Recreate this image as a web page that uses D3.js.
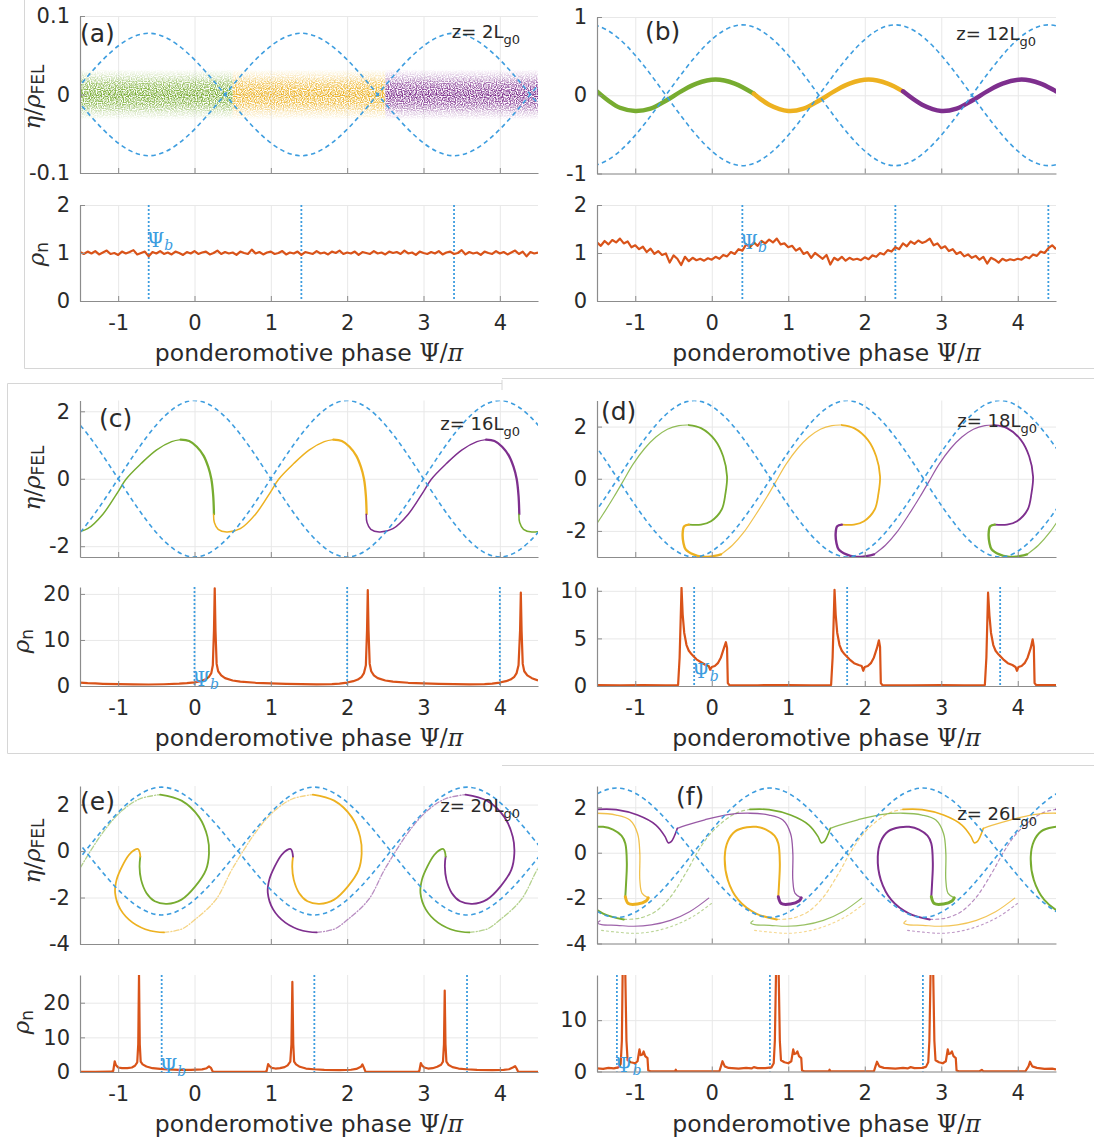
<!DOCTYPE html>
<html><head><meta charset="utf-8">
<script src="https://cdn.jsdelivr.net/npm/d3@7"></script>
<style>body{margin:0;background:#fff}svg{display:block}</style>
</head><body>
<svg id="fig" width="1094" height="1142"></svg>
<script>
// ---------------- shared axis values ----------------
const psiTicks = [-1, 0, 1, 2, 3, 4];
const psiRange = [-1.5, 4.5];

// ---------------- (a) z = 2 Lg0 ----------------
const aBucketPhase = [-0.6, 1.4, 3.4];
const aSeparatrix = [[-3.6,0],[-2.6,-0.078],[-1.6,0],[-0.6,0.078],[0.4,0],[1.4,-0.078],[2.4,0],[3.4,0.078],[4.4,0],[5.4,-0.078],[6.4,0]];
const aBands = [[-1.5, 0.5, 'green'], [0.5, 2.5, 'yellow'], [2.5, 4.5, 'purple']];
const aBandSpread = 0.032;
const densityStart = -1.5, densityStep = 0.05;
const aDensity = [
 1.02,0.98,1.03,0.99,1.04,0.97,1.01,1.05,0.98,1.00,
 0.96,1.03,0.99,1.02,1.06,0.97,1.00,1.03,0.93,1.02,
 0.99,1.04,0.98,1.01,0.97,1.03,1.00,0.96,1.02,0.99,
 1.04,0.98,1.01,1.03,0.97,1.00,1.05,0.98,1.02,0.99,
 1.01,0.96,1.03,1.00,0.98,1.07,0.99,1.02,0.97,1.01,
 1.03,0.98,1.00,1.04,0.97,1.01,0.99,1.03,0.96,1.02,
 1.00,0.98,1.04,0.99,1.01,0.97,1.03,1.00,1.05,0.98,
 1.01,0.99,1.03,0.96,1.02,1.00,0.98,1.04,0.99,1.01,
 0.97,1.03,1.00,1.02,0.98,1.05,0.99,1.01,0.96,1.03,
 1.00,0.98,1.02,0.99,1.04,0.97,1.01,1.03,0.98,1.00,
 1.06,0.97,1.02,0.99,1.01,0.96,1.03,1.00,0.98,1.04,
 0.99,1.02,0.97,1.01,1.05,0.98,1.03,0.93,1.02,0.99,
 1.01];

// ---------------- (b) z = 12 Lg0 ----------------
const bBucketPhase = [0.4, 2.4, 4.4];
const bSeparatrix = [[-2.6,0],[-1.6,-0.9],[-0.6,0],[0.4,0.9],[1.4,0],[2.4,-0.9],[3.4,0],[4.4,0.9],[5.4,0]];
const bGreen  = [[-1.5,0.05],[-1.35,-0.07],[-1.2,-0.16],[-1.0,-0.20],[-0.8,-0.17],[-0.6,-0.07],[-0.4,0.05],[-0.2,0.15],[0.05,0.20],[0.3,0.15],[0.55,0.02]];
const bYellow = [[0.55,0.02],[0.75,-0.12],[1.0,-0.20],[1.2,-0.17],[1.4,-0.07],[1.6,0.05],[1.8,0.15],[2.05,0.20],[2.3,0.15],[2.5,0.05]];
const bPurple = [[2.5,0.05],[2.75,-0.12],[3.0,-0.20],[3.2,-0.17],[3.4,-0.07],[3.6,0.05],[3.8,0.15],[4.05,0.20],[4.3,0.15],[4.5,0.05]];
const bDensity = [
 1.22,1.15,1.25,1.18,1.27,1.22,1.30,1.20,1.24,1.12,
 1.16,1.08,1.13,1.02,1.09,0.98,1.04,0.96,0.99,0.80,
 0.95,0.88,0.75,0.92,0.83,0.90,0.85,0.88,0.84,0.89,
 0.86,0.92,0.88,0.96,0.93,1.02,0.98,1.08,1.05,1.18,
 1.12,1.22,1.15,1.25,1.20,1.28,1.22,1.30,1.18,1.20,
 1.12,1.15,1.05,1.10,0.98,1.02,0.90,1.00,0.94,0.88,
 0.96,0.76,0.90,0.85,0.92,0.84,0.90,0.86,0.88,0.85,
 0.91,0.87,0.95,0.92,1.00,0.97,1.06,1.03,1.12,1.08,
 1.20,1.14,1.24,1.19,1.26,1.21,1.24,1.30,1.16,1.20,
 1.10,1.14,1.04,1.08,0.98,1.02,0.93,0.97,0.90,0.94,
 0.86,0.92,0.78,0.90,0.86,0.80,0.88,0.84,0.87,0.85,
 0.88,0.86,0.92,0.89,0.97,0.94,1.03,1.00,1.10,1.16,
 1.08];

// ---------------- (c) z = 16 Lg0 ----------------
const cBucketPhase = [0, 2, 4];
const cSeparatrix = [[-3,0],[-2,-2.32],[-1,0],[0,2.32],[1,0],[2,-2.32],[3,0],[4,2.32],[5,0],[6,-2.32],[7,0]];
// one colour stretch, phase measured from the bucket where it starts
const cRise = [[0.25,-1.05],[0.26,-1.30],[0.31,-1.50],[0.42,-1.58],[0.6,-1.48],[0.8,-1.05],[1.0,-0.38],[1.1,-0.02],[1.3,0.45],[1.5,0.85],[1.7,1.1],[1.82,1.16]];
const cFall = [[1.82,1.16],[1.93,1.12],[2.03,0.95],[2.12,0.68],[2.18,0.35],[2.22,0.0],[2.245,-0.5],[2.255,-1.05]];
const cStarts = [-2, 0, 2, 4];
const cColours = ['green', 'yellow', 'purple', 'green'];
const cDensity = [[-1.5,0.75],[-1.4,0.62],[-1.3,0.55],[-1.2,0.48],[-1.0,0.4],[-0.8,0.35],[-0.6,0.33],[-0.4,0.38],[-0.2,0.5],[-0.1,0.62],[0.0,0.8],[0.08,1.05],[0.14,1.4],[0.19,2.0],[0.22,2.8],[0.24,4.5],[0.255,12],[0.265,21.2],[0.275,12],[0.29,4.8],[0.31,3.2],[0.35,2.3],[0.4,1.7],[0.5,1.2],[0.6,0.95],[0.8,0.7],[1.0,0.55],[1.2,0.45],[1.4,0.4],[1.6,0.35],[1.8,0.4],[1.9,0.5],[2.0,0.75],[2.08,1.05],[2.14,1.4],[2.19,2.0],[2.22,2.8],[2.245,4.5],[2.26,12],[2.27,20.8],[2.28,12],[2.295,4.8],[2.315,3.2],[2.35,2.3],[2.4,1.7],[2.5,1.2],[2.6,0.95],[2.8,0.7],[3.0,0.55],[3.2,0.45],[3.4,0.4],[3.6,0.35],[3.8,0.4],[3.9,0.5],[4.0,0.75],[4.08,1.05],[4.14,1.4],[4.19,2.0],[4.22,2.8],[4.245,4.5],[4.265,12],[4.275,20.3],[4.285,12],[4.3,4.8],[4.32,3.2],[4.36,2.3],[4.42,1.7],[4.5,1.2]];

// ---------------- (d) z = 18 Lg0 ----------------
const dBucketPhase = [-0.23, 1.77, 3.77];
const dSeparatrix = [[-3.23,0],[-2.23,-3],[-1.23,0],[-0.23,3],[0.77,0],[1.77,-3],[2.77,0],[3.77,3],[4.77,0],[5.77,-3],[6.77,0]];
const dCurl = [[-0.07,-1.76],[-0.13,-1.82],[-0.15,-2.08],[-0.14,-2.46],[-0.11,-2.71],[-0.01,-2.90],[0.10,-2.99],[0.21,-2.99],[0.35,-2.9]];
const dRise = [[0.35,-2.9],[0.5,-2.55],[0.65,-2.05],[0.8,-1.4],[0.95,-0.7],[1.07,-0.1],[1.2,0.55],[1.35,1.15],[1.5,1.6],[1.65,1.9],[1.8,2.04],[1.93,2.06]];
const dLoop = [[1.93,2.06],[2.09,1.94],[2.27,1.49],[2.38,0.85],[2.43,0.09],[2.41,-0.55],[2.36,-1.18],[2.22,-1.63],[2.09,-1.76],[1.93,-1.76]];
const dStarts = [-2.23, -0.23, 1.77, 3.77];
const dColours = ['green', 'yellow', 'purple', 'green'];
const dDensity = [[-1.5,0.1],[-1.2,0.08],[-0.9,0.1],[-0.6,0.08],[-0.44,0.1],[-0.42,3],[-0.395,10.3],[-0.38,7.5],[-0.36,5.6],[-0.33,4.3],[-0.3,3.7],[-0.26,3.3],[-0.2,2.8],[-0.14,2.5],[-0.08,2.2],[-0.04,2.1],[-0.02,1.7],[0.0,2.0],[0.04,2.1],[0.08,2.4],[0.12,3.0],[0.16,4.0],[0.185,4.6],[0.2,4.0],[0.21,0.3],[0.23,0.1],[0.6,0.08],[1.0,0.1],[1.3,0.08],[1.56,0.1],[1.58,3],[1.605,10.1],[1.62,7.5],[1.64,5.6],[1.67,4.3],[1.7,3.7],[1.74,3.3],[1.8,2.8],[1.86,2.4],[1.92,2.2],[1.96,2.1],[1.98,1.6],[2.0,2.0],[2.04,2.1],[2.08,2.4],[2.12,3.0],[2.16,4.0],[2.185,4.8],[2.2,4.1],[2.21,0.3],[2.23,0.1],[2.6,0.08],[3.0,0.1],[3.3,0.08],[3.57,0.1],[3.59,3],[3.612,9.8],[3.63,7.4],[3.65,5.6],[3.68,4.3],[3.71,3.7],[3.75,3.3],[3.81,2.8],[3.87,2.4],[3.93,2.2],[3.97,2.0],[3.99,1.6],[4.01,2.0],[4.05,2.1],[4.09,2.4],[4.13,3.0],[4.17,4.0],[4.195,4.9],[4.21,4.1],[4.22,0.3],[4.24,0.1],[4.5,0.1]];

// ---------------- (e) z = 20 Lg0 ----------------
const eBucketPhase = [-0.43, 1.57, 3.57];
const eSeparatrix = [[-3.43,0],[-2.43,-2.75],[-1.43,0],[-0.43,2.75],[0.57,0],[1.57,-2.75],[2.57,0],[3.57,2.75],[4.57,0],[5.57,-2.75],[6.57,0]];
const eHook  = [[-0.28,-0.24],[-0.29,-0.03],[-0.31,0.09],[-0.36,0.04],[-0.43,-0.17],[-0.52,-0.67],[-0.59,-1.23],[-0.61,-1.8],[-0.54,-2.51],[-0.38,-3.08],[-0.15,-3.43],[0.03,-3.5]];
const eOuter = [[0.03,-3.5],[0.26,-3.36],[0.44,-2.94],[0.71,-2.09],[0.93,-0.74],[1.25,0.89],[1.48,1.74],[1.71,2.24],[1.98,2.43]];
const eLoop  = [[1.98,2.43],[2.26,2.17],[2.49,1.46],[2.60,0.61],[2.62,-0.1],[2.58,-0.81],[2.44,-1.52],[2.26,-2.09],[2.07,-2.27],[1.91,-2.16],[1.80,-1.8],[1.73,-1.23],[1.71,-0.67],[1.72,-0.24]];
const eStarts = [-2.43, -0.43, 1.57, 3.57];
const eColours = ['green', 'yellow', 'purple', 'green'];
const eDensity = [[-1.5,0.05],[-1.3,0.05],[-1.1,0.08],[-1.065,0.3],[-1.045,3.1],[-1.03,2.0],[-1.0,1.3],[-0.95,1.1],[-0.88,1.1],[-0.82,1.3],[-0.78,1.8],[-0.75,2.8],[-0.737,8],[-0.727,28],[-0.717,8],[-0.705,3],[-0.68,2.2],[-0.63,1.6],[-0.55,1.1],[-0.45,0.9],[-0.35,0.75],[-0.2,0.6],[-0.05,0.6],[0.1,0.75],[0.16,1.1],[0.19,1.6],[0.215,1.2],[0.24,0.1],[0.4,0.05],[0.7,0.05],[0.93,0.08],[0.945,0.3],[0.965,2.3],[0.98,1.8],[1.01,1.2],[1.06,1.0],[1.12,1.1],[1.18,1.4],[1.22,1.9],[1.255,3],[1.27,8],[1.282,26],[1.294,8],[1.305,3],[1.33,2.2],[1.38,1.5],[1.46,1.0],[1.56,0.8],[1.7,0.6],[1.9,0.55],[2.05,0.65],[2.12,0.9],[2.18,1.5],[2.2,2.2],[2.22,1.2],[2.24,0.1],[2.4,0.05],[2.7,0.05],[2.93,0.08],[2.945,0.3],[2.965,2.6],[2.98,1.9],[3.01,1.3],[3.06,1.0],[3.12,1.1],[3.18,1.5],[3.23,2.1],[3.255,3],[3.268,8],[3.278,23.5],[3.288,8],[3.3,3],[3.33,2.0],[3.38,1.4],[3.46,1.0],[3.56,0.8],[3.7,0.6],[3.9,0.55],[4.05,0.6],[4.12,0.8],[4.17,1.3],[4.2,1.7],[4.22,1.0],[4.24,0.1],[4.5,0.05]];

// ---------------- (f) z = 26 Lg0 ----------------
const fBucketPhase = [-1.24, 0.76, 2.76];
const fSeparatrix = [[-4.24,0],[-3.24,-2.85],[-2.24,0],[-1.24,2.85],[-0.24,0],[0.76,-2.85],[1.76,0],[2.76,2.85],[3.76,0],[4.76,-2.85],[5.76,0]];
const fBuckets     = [-3.24, -1.24, 0.76, 2.76, 4.76];
const fCoreColours = ['purple', 'green', 'yellow', 'purple', 'green'];
const fTipColours  = ['green', 'yellow', 'purple', 'green', 'yellow'];
const fHookColours = ['yellow', 'purple', 'green', 'yellow', 'purple'];
const fCore     = [[0.09,-2.94],[-0.18,-2.68],[-0.41,-2.09],[-0.55,-1.2],[-0.59,-0.18],[-0.55,0.5],[-0.45,0.95],[-0.3,1.12],[-0.18,1.14],[-0.05,1.02],[0.06,0.75],[0.11,0.41],[0.13,-0.47],[0.12,-1.35],[0.11,-1.94]];
const fCoreTail = [[0.09,-2.94],[0.3,-2.88],[0.5,-2.6],[0.7,-1.95],[0.9,-0.9],[1.05,0.0],[1.2,0.75],[1.4,1.4],[1.58,1.78],[1.74,1.91]];
const fTip      = [[0.11,-1.94],[0.15,-2.24],[0.27,-2.26],[0.38,-2.13],[0.41,-1.99]];
const fTipTail  = [[0.41,-1.99],[0.33,-1.79],[0.30,-1.21],[0.30,-0.03],[0.27,0.85],[0.17,1.44],[-0.01,1.66],[-0.26,1.74],[-0.55,1.68],[-0.85,1.45],[-1.1,1.2],[-1.21,1.07]];
const fHook     = [[-0.26,1.91],[-0.01,1.9],[0.27,1.66],[0.51,1.22],[0.63,0.71],[0.67,0.44],[0.71,0.49],[0.79,1.07]];
const fUnder    = [[-0.22,-3.0],[-0.25,-3.1],[-0.2,-3.17],[0.0,-3.2],[0.22,-3.24],[0.45,-3.18],[0.7,-2.98],[0.95,-2.6],[1.2,-2.0]];
const fUnderLow = [[-0.2,-3.42],[0.0,-3.5],[0.25,-3.55],[0.5,-3.45],[0.75,-3.2],[1.0,-2.8],[1.25,-2.2]];
const fDensity = [[-1.5,0.6],[-1.42,0.5],[-1.35,0.7],[-1.28,0.6],[-1.22,0.8],[-1.19,1.5],[-1.175,6],[-1.165,19],[-1.13,19],[-1.115,6],[-1.1,2.2],[-1.06,1.8],[-1.0,1.6],[-0.97,2.0],[-0.945,4.3],[-0.93,3.2],[-0.905,3.3],[-0.89,3.9],[-0.87,3.0],[-0.84,2.6],[-0.83,0.2],[-0.8,0.05],[-0.6,0.05],[-0.48,0.05],[-0.47,0.35],[-0.46,0.05],[-0.2,0.05],[0.1,0.05],[0.12,1.0],[0.14,2.0],[0.17,1.0],[0.22,0.7],[0.35,0.55],[0.45,0.7],[0.52,0.6],[0.55,0.85],[0.6,0.65],[0.7,0.65],[0.78,0.8],[0.81,1.6],[0.825,6],[0.84,19],[0.875,19],[0.89,6],[0.905,2.2],[0.95,1.8],[1.0,1.6],[1.04,2.0],[1.065,4.3],[1.08,3.4],[1.1,3.5],[1.12,3.9],[1.14,3.0],[1.17,2.6],[1.18,0.2],[1.21,0.05],[1.4,0.05],[1.53,0.05],[1.54,0.35],[1.55,0.05],[1.9,0.05],[2.12,0.05],[2.14,1.0],[2.16,1.9],[2.19,1.0],[2.25,0.7],[2.4,0.55],[2.5,0.7],[2.56,0.6],[2.6,0.85],[2.65,0.65],[2.75,0.7],[2.8,0.9],[2.83,1.8],[2.845,6],[2.86,19],[2.895,19],[2.91,6],[2.925,2.2],[2.97,1.8],[3.02,1.6],[3.06,2.0],[3.085,4.3],[3.1,3.4],[3.12,3.5],[3.14,3.9],[3.16,3.0],[3.19,2.6],[3.2,0.2],[3.23,0.05],[3.5,0.05],[3.53,0.3],[3.55,0.05],[4.1,0.05],[4.14,1.0],[4.16,1.9],[4.19,1.0],[4.25,0.7],[4.35,0.5],[4.45,0.55],[4.5,0.4]];

// ---------------- drawing ----------------
const COLOUR = {green: '#77AC30', yellow: '#EDB120', purple: '#7E2F8E'};
const SEP = '#3d9ddf', RHO = '#D95319', GRID = '#e8e8e8', AXIS = '#8c8c8c', INK = '#2a2a2a';
const SANS = "'DejaVu Sans', sans-serif";
const SERIF = "'DejaVu Serif', 'Liberation Serif', serif";

const svg = d3.select('#fig');
const defs = svg.append('defs');
let clipCount = 0;

// grainy look of the macro-particle cloud in (a)
const grain = defs.append('filter').attr('id', 'grain').attr('x', 0).attr('y', 0).attr('width', 1).attr('height', 1);
grain.append('feTurbulence').attr('type', 'fractalNoise').attr('baseFrequency', 0.85).attr('numOctaves', 1).attr('seed', 7).attr('result', 'noise');
grain.append('feColorMatrix').attr('in', 'noise').attr('type', 'matrix')
  .attr('values', '0 0 0 0 0  0 0 0 0 0  0 0 0 0 0  0 0 0 3.2 -1.1').attr('result', 'speck');
grain.append('feComposite').attr('in', 'SourceGraphic').attr('in2', 'speck').attr('operator', 'in');

// frame lines left around the sub-figures
const frameG = svg.append('g').attr('stroke', '#d6d6d6').attr('stroke-width', 1).attr('fill', 'none');
[[24.5,0,24.5,368.5],[24.5,368.5,1094,368.5],[502,378.5,1094,378.5],
 [7.5,383.5,502,383.5],[502,380,502,390],[7.5,383.5,7.5,753.5],[7.5,753.5,1094,753.5],[502,765.5,1094,765.5]]
  .forEach(([x1,y1,x2,y2]) => frameG.append('line').attr('x1',x1).attr('y1',y1).attr('x2',x2).attr('y2',y2));

function makeAxes(box) {
  const x = d3.scaleLinear().domain(psiRange).range([box.x0, box.x1]);
  const y = d3.scaleLinear().domain(box.dom).range([box.y1, box.y0]);
  const g = svg.append('g');
  g.append('g').attr('transform', `translate(0,${box.y1})`)
    .call(d3.axisBottom(x).tickValues(psiTicks).tickSize(-(box.y1 - box.y0)).tickFormat(''))
    .call(s => { s.select('.domain').remove(); s.selectAll('line').attr('stroke', GRID); });
  g.append('g').attr('transform', `translate(${box.x0},0)`)
    .call(d3.axisLeft(y).tickValues(box.ticks).tickSize(-(box.x1 - box.x0)).tickFormat(''))
    .call(s => { s.select('.domain').remove(); s.selectAll('line').attr('stroke', GRID); });
  const id = 'clip' + (clipCount++);
  defs.append('clipPath').attr('id', id).append('rect')
    .attr('x', box.x0).attr('y', box.y0).attr('width', box.x1 - box.x0).attr('height', box.y1 - box.y0 + 1);
  const plot = g.append('g').attr('clip-path', `url(#${id})`);
  return {x, y, g, plot, box};
}

function finishAxes(ax, xLabels) {
  const {box} = ax;
  const style = s => {
    s.select('.domain').attr('stroke', AXIS).attr('stroke-width', 1.2);
    s.selectAll('.tick line').attr('stroke', AXIS).attr('stroke-width', 1);
    s.selectAll('text').attr('fill', INK).attr('font-family', SANS).attr('font-size', 21);
  };
  ax.g.append('g').attr('transform', `translate(0,${box.y1})`)
    .call(d3.axisBottom(ax.x).tickValues(psiTicks).tickSizeInner(-5).tickSizeOuter(0).tickPadding(14)
      .tickFormat(xLabels ? d => String(d) : () => ''))
    .call(style);
  ax.g.append('g').attr('transform', `translate(${box.x0},0)`)
    .call(d3.axisLeft(ax.y).tickValues(box.ticks).tickSizeInner(-5).tickSizeOuter(0).tickPadding(10)
      .tickFormat(d => String(d)))
    .call(style);
}

function drawSeparatrix(ax, nodes) {
  const line = d3.line().x(d => ax.x(d[0])).y(d => ax.y(d[1])).curve(d3.curveNatural);
  [1, -1].forEach(sgn => {
    ax.plot.append('path').datum(nodes.map(([p, e]) => [p, sgn * e]))
      .attr('d', line).attr('fill', 'none').attr('stroke', SEP)
      .attr('stroke-width', 1.6).attr('stroke-dasharray', '4.5,3.5');
  });
}

function drawBucketLines(ax, phases) {
  ax.plot.selectAll(null).data(phases).join('line')
    .attr('x1', d => ax.x(d)).attr('x2', d => ax.x(d))
    .attr('y1', ax.box.y0).attr('y2', ax.box.y1)
    .attr('stroke', SEP).attr('stroke-width', 1.8).attr('stroke-dasharray', '2,2');
}

function drawDensity(ax, pts) {
  const line = d3.line().x(d => ax.x(d[0])).y(d => ax.y(d[1]));
  ax.plot.append('path').datum(pts).attr('d', line).attr('fill', 'none')
    .attr('stroke', RHO).attr('stroke-width', 2.2).attr('stroke-linejoin', 'round');
}

function drawCurve(ax, pts, colour, width, opts = {}) {
  const line = d3.line().x(d => ax.x(d[0])).y(d => ax.y(d[1])).curve(d3.curveCatmullRom.alpha(0.5));
  const p = ax.plot.append('path').datum(pts).attr('d', line).attr('fill', 'none')
    .attr('stroke', COLOUR[colour]).attr('stroke-width', width)
    .attr('stroke-linecap', 'round').attr('stroke-linejoin', 'round');
  if (opts.dash) p.attr('stroke-dasharray', opts.dash);
  if (opts.opacity) p.attr('stroke-opacity', opts.opacity);
}

// copies a stretch of phase space into the bucket that starts at `start`
function shifted(pts, start) { return pts.map(([p, e]) => [start + p, e]); }

function psiBLabel(ax, psi, rho) {
  const t = ax.g.append('text').attr('x', ax.x(psi) - 2).attr('y', ax.y(rho))
    .attr('dominant-baseline', 'middle').attr('fill', SEP).attr('font-family', SERIF).attr('font-size', 20);
  t.append('tspan').text('Ψ');
  t.append('tspan').attr('font-style', 'italic').attr('font-size', 14).attr('dy', 5).text('b');
}

function zLabel(ax, x, y, n) {
  const t = ax.g.append('text').attr('x', x).attr('y', y).attr('text-anchor', 'end')
    .attr('fill', INK).attr('font-family', SANS).attr('font-size', 18);
  t.append('tspan').text(`z= ${n}L`);
  t.append('tspan').attr('font-size', 13).attr('dy', 6).text('g0');
}

function panelLetter(x, y, s) {
  svg.append('text').attr('x', x).attr('y', y).attr('fill', INK)
    .attr('font-family', SANS).attr('font-size', 25).text(`(${s})`);
}

function xLabel(ax) {
  const t = ax.g.append('text').attr('x', (ax.box.x0 + ax.box.x1) / 2).attr('y', ax.box.y1 + 52)
    .attr('text-anchor', 'middle').attr('dominant-baseline', 'central')
    .attr('fill', INK).attr('font-family', SANS).attr('font-size', 23.5);
  t.append('tspan').text('ponderomotive phase ');
  t.append('tspan').attr('font-family', SERIF).text('Ψ/');
  t.append('tspan').attr('font-family', SERIF).attr('font-style', 'italic').text('π');
}

function yLabelEta(cx, cy) {
  const t = svg.append('text').attr('transform', `translate(${cx},${cy}) rotate(-90)`)
    .attr('text-anchor', 'middle').attr('dominant-baseline', 'central')
    .attr('fill', INK).attr('font-size', 23);
  t.append('tspan').attr('font-family', SERIF).attr('font-style', 'italic').text('η');
  t.append('tspan').attr('font-family', SERIF).text('/');
  t.append('tspan').attr('font-family', SERIF).attr('font-style', 'italic').text('ρ');
  t.append('tspan').attr('font-family', SANS).attr('font-size', 17).attr('dy', 6).text('FEL');
}

function yLabelRho(cx, cy) {
  const t = svg.append('text').attr('transform', `translate(${cx},${cy}) rotate(-90)`)
    .attr('text-anchor', 'middle').attr('dominant-baseline', 'central')
    .attr('fill', INK).attr('font-size', 23);
  t.append('tspan').attr('font-family', SERIF).attr('font-style', 'italic').text('ρ');
  t.append('tspan').attr('font-family', SANS).attr('font-size', 17).attr('dy', 6).text('n');
}

const densityPoints = vals => vals.map((v, i) => [densityStart + i * densityStep, v]);
const LEFT = {x0: 80, x1: 538}, RIGHT = {x0: 597, x1: 1056};

// ----- (a)
{
  const top = makeAxes({...LEFT, y0: 16, y1: 173, dom: [-0.1, 0.1], ticks: [-0.1, 0, 0.1]});
  const cloud = top.plot.append('g').attr('filter', 'url(#grain)');
  aBands.forEach(([p0, p1, c], i) => {
    const gid = 'band' + i;
    const grad = defs.append('linearGradient').attr('id', gid).attr('x1', 0).attr('y1', 0).attr('x2', 0).attr('y2', 1);
    [[0, 0], [0.15, 0.3], [0.3, 0.75], [0.5, 1], [0.7, 0.75], [0.85, 0.3], [1, 0]]
      .forEach(([o, a]) => grad.append('stop').attr('offset', o).attr('stop-color', COLOUR[c]).attr('stop-opacity', a));
    cloud.append('rect').attr('x', top.x(p0)).attr('width', top.x(p1) - top.x(p0))
      .attr('y', top.y(aBandSpread)).attr('height', top.y(-aBandSpread) - top.y(aBandSpread))
      .attr('fill', `url(#${gid})`);
  });
  drawSeparatrix(top, aSeparatrix);
  finishAxes(top, false);
  zLabel(top, 520, 38, 2);
  const bot = makeAxes({...LEFT, y0: 205, y1: 301, dom: [0, 2], ticks: [0, 1, 2]});
  drawBucketLines(bot, aBucketPhase);
  drawDensity(bot, densityPoints(aDensity));
  finishAxes(bot, true);
  psiBLabel(bot, aBucketPhase[0], 1.25);
  xLabel(bot);
  panelLetter(80, 42, 'a');
  yLabelEta(32, 97);
  yLabelRho(36, 254);
}

// ----- (b)
{
  const top = makeAxes({...RIGHT, y0: 17, y1: 173.5, dom: [-1, 1], ticks: [-1, 0, 1]});
  [[bGreen, 'green'], [bYellow, 'yellow'], [bPurple, 'purple']]
    .forEach(([pts, c]) => drawCurve(top, pts, c, 4.5));
  drawSeparatrix(top, bSeparatrix);
  finishAxes(top, false);
  zLabel(top, 1036, 40, 12);
  const bot = makeAxes({...RIGHT, y0: 205, y1: 301, dom: [0, 2], ticks: [0, 1, 2]});
  drawBucketLines(bot, bBucketPhase);
  drawDensity(bot, densityPoints(bDensity));
  finishAxes(bot, true);
  psiBLabel(bot, bBucketPhase[0], 1.2);
  xLabel(bot);
  panelLetter(645, 40, 'b');
}

// ----- (c)
{
  const top = makeAxes({...LEFT, y0: 400.5, y1: 557, dom: [-2.32, 2.32], ticks: [-2, 0, 2]});
  cStarts.forEach((s, i) => {
    drawCurve(top, shifted(cRise, s), cColours[i], 1.5);
    drawCurve(top, shifted(cFall, s), cColours[i], 2.3);
  });
  drawSeparatrix(top, cSeparatrix);
  finishAxes(top, false);
  zLabel(top, 520, 430, 16);
  const bot = makeAxes({...LEFT, y0: 587, y1: 686, dom: [0, 21.5], ticks: [0, 10, 20]});
  drawBucketLines(bot, cBucketPhase);
  drawDensity(bot, cDensity);
  finishAxes(bot, true);
  psiBLabel(bot, cBucketPhase[0], 1.3);
  xLabel(bot);
  panelLetter(99, 427, 'c');
  yLabelEta(32, 478);
  yLabelRho(21, 641);
}

// ----- (d)
{
  const top = makeAxes({...RIGHT, y0: 400.5, y1: 557, dom: [-3, 3], ticks: [-2, 0, 2]});
  dStarts.forEach((s, i) => {
    drawCurve(top, shifted(dRise, s), dColours[i], 1.2, {opacity: 0.8});
    drawCurve(top, shifted(dLoop, s), dColours[i], 1.8);
    drawCurve(top, shifted(dCurl, s), dColours[i], 2.4);
  });
  drawSeparatrix(top, dSeparatrix);
  finishAxes(top, false);
  zLabel(top, 1037, 427, 18);
  const bot = makeAxes({...RIGHT, y0: 587, y1: 686, dom: [0, 10.4], ticks: [0, 5, 10]});
  drawBucketLines(bot, dBucketPhase);
  drawDensity(bot, dDensity);
  finishAxes(bot, true);
  psiBLabel(bot, dBucketPhase[0], 1.5);
  xLabel(bot);
  panelLetter(601, 420, 'd');
}

// ----- (e)
{
  const top = makeAxes({...LEFT, y0: 786, y1: 944, dom: [-4, 2.8], ticks: [-4, -2, 0, 2]});
  eStarts.forEach((s, i) => {
    drawCurve(top, shifted(eOuter, s), eColours[i], 1.3, {dash: '5,2,1,2', opacity: 0.55});
    drawCurve(top, shifted(eLoop, s), eColours[i], 1.8);
    drawCurve(top, shifted(eHook, s), eColours[i], 1.8);
  });
  drawSeparatrix(top, eSeparatrix);
  finishAxes(top, false);
  zLabel(top, 520, 812, 20);
  const bot = makeAxes({...LEFT, y0: 975, y1: 1072, dom: [0, 28], ticks: [0, 10, 20]});
  drawBucketLines(bot, eBucketPhase);
  drawDensity(bot, eDensity);
  finishAxes(bot, true);
  psiBLabel(bot, eBucketPhase[0], 1.4);
  xLabel(bot);
  panelLetter(80, 810, 'e');
  yLabelEta(32, 851);
  yLabelRho(21, 1022);
}

// ----- (f)
{
  const top = makeAxes({...RIGHT, y0: 786, y1: 943.5, dom: [-4, 2.94], ticks: [-4, -2, 0, 2]});
  fBuckets.forEach((b, i) => {
    drawCurve(top, shifted(fCoreTail, b), fCoreColours[i], 1.2, {dash: '3,3', opacity: 0.55});
    drawCurve(top, shifted(fUnderLow, b), fCoreColours[i], 1.1, {dash: '2,3', opacity: 0.5});
    drawCurve(top, shifted(fUnder, b), fHookColours[i], 1.2, {opacity: 0.75});
    drawCurve(top, shifted(fTipTail, b), fTipColours[i], 1.3, {opacity: 0.8});
    drawCurve(top, shifted(fHook, b), fHookColours[i], 1.6);
    drawCurve(top, shifted(fCore, b), fCoreColours[i], 2);
    drawCurve(top, shifted(fTip, b), fTipColours[i], 3);
  });
  drawSeparatrix(top, fSeparatrix);
  finishAxes(top, false);
  zLabel(top, 1037, 820, 26);
  const bot = makeAxes({...RIGHT, y0: 975, y1: 1071.5, dom: [0, 18.8], ticks: [0, 10]});
  drawBucketLines(bot, fBucketPhase);
  drawDensity(bot, fDensity);
  finishAxes(bot, true);
  psiBLabel(bot, fBucketPhase[0], 1.0);
  xLabel(bot);
  panelLetter(676, 805, 'f');
}
</script>
</body></html>
